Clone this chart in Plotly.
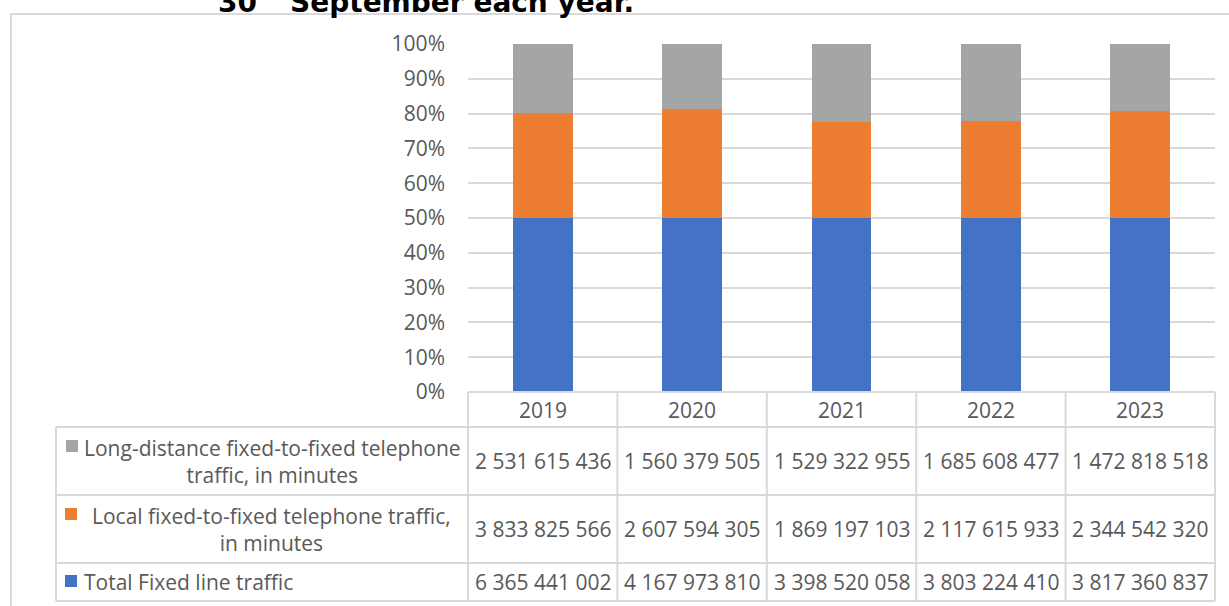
import plotly.graph_objects as go

# ---- data -------------------------------------------------------------
years = ["2019", "2020", "2021", "2022", "2023"]
long_distance = [2531615436, 1560379505, 1529322955, 1685608477, 1472818518]
local = [3833825566, 2607594305, 1869197103, 2117615933, 2344542320]
total = [6365441002, 4167973810, 3398520058, 3803224410, 3817360837]

series_names = [
    "Long-distance fixed-to-fixed telephone<br>traffic, in minutes",
    "Local fixed-to-fixed telephone traffic,<br>in minutes",
    "Total Fixed line traffic",
]
y_ticks = [0, 10, 20, 30, 40, 50, 60, 70, 80, 90, 100]

# ---- styling ----------------------------------------------------------
C_BLUE, C_ORANGE, C_GRAY = "#4472C4", "#ED7D31", "#A5A5A5"
TXT = "#595959"
GRID = "#D9D9D9"
FONT = "Open Sans"
FS = 21

W, H = 1229, 606
L, R, T, B = 468, 14, 44, 214
PW, PH = W - L - R, H - T - B


def px_x(px):
    return (px - L) / PW


def px_y(py):
    return (H - B - py) / PH


fig = go.Figure()
for name, vals, col in [
    ("Total Fixed line traffic", total, C_BLUE),
    ("Local fixed-to-fixed telephone traffic, in minutes", local, C_ORANGE),
    ("Long-distance fixed-to-fixed telephone traffic, in minutes", long_distance, C_GRAY),
]:
    fig.add_trace(go.Bar(x=years, y=vals, name=name, marker_color=col,
                         marker_line_width=0))

# ---- data table below the plot ----------------------------------------
row_edges = [392, 427, 495, 563, 601]      # header, long, local, total
label_left = 56
n = len(years)
shapes = []
line = dict(color=GRID, width=2)

# horizontal rules
shapes.append(dict(type="line", xref="paper", yref="paper", x0=0, x1=1,
                   y0=px_y(row_edges[0]), y1=px_y(row_edges[0]), line=line))
for e in row_edges[1:]:
    shapes.append(dict(type="line", xref="paper", yref="paper",
                       x0=px_x(label_left), x1=1, y0=px_y(e), y1=px_y(e), line=line))
# vertical rules
for k in range(n + 1):
    shapes.append(dict(type="line", xref="paper", yref="paper", x0=k / n, x1=k / n,
                       y0=px_y(row_edges[0]), y1=px_y(row_edges[-1]), line=line))
shapes.append(dict(type="line", xref="paper", yref="paper",
                   x0=px_x(label_left), x1=px_x(label_left),
                   y0=px_y(row_edges[1]), y1=px_y(row_edges[-1]), line=line))

# outer chart frame
shapes.append(dict(type="rect", xref="paper", yref="paper", layer="below",
                   x0=px_x(11), x1=px_x(1250), y0=px_y(14), y1=px_y(640),
                   line=dict(color=GRID, width=2)))

# legend keys in the row headers (top-left corner of each key, in pixels)
key_pos = [(66, 440), (65, 508), (65, 575)]
key_cols = [C_GRAY, C_ORANGE, C_BLUE]
for (kx, ky), col in zip(key_pos, key_cols):
    shapes.append(dict(type="rect", xref="paper", yref="paper",
                       x0=px_x(kx), x1=px_x(kx + 12), y0=px_y(ky), y1=px_y(ky + 12),
                       fillcolor=col, line=dict(width=0)))


def fmt(v):
    return f"{v:,}".replace(",", " ")


annotations = []
tfont = dict(family=FONT, size=FS, color=TXT)


def row_mid(i):
    return px_y((row_edges[i] + row_edges[i + 1]) / 2)


def cell(x, y, text, xanchor="center", align="center"):
    return dict(x=x, y=y, xref="paper", yref="paper", xanchor=xanchor,
                yanchor="middle", align=align, text=text, showarrow=False,
                font=tfont)


for i, yr in enumerate(years):
    annotations.append(cell((i + 0.5) / n, row_mid(0), yr))
    for r, vals in enumerate([long_distance, local, total]):
        annotations.append(cell((i + 0.5) / n, row_mid(r + 1), fmt(vals[i])))

annotations.append(cell(px_x(272), row_mid(1), series_names[0]))
annotations.append(cell(px_x(271), row_mid(2), series_names[1]))
annotations.append(cell(px_x(82), row_mid(3), series_names[2], xanchor="left",
                        align="left"))

# heading (runs off the top edge of the page)
annotations.append(dict(x=px_x(216), y=px_y(21), xref="paper", yref="paper",
                        xanchor="left", yanchor="bottom", showarrow=False,
                        text="<b>30<sup>th</sup> September each year.</b>",
                        font=dict(family="DejaVu Sans", size=28, color="#000000")))

fig.update_layout(
    width=W, height=H,
    margin=dict(l=L, r=R, t=T, b=B),
    paper_bgcolor="white", plot_bgcolor="white",
    barmode="stack", barnorm="percent", bargap=0.6,
    showlegend=False,
    shapes=shapes, annotations=annotations,
    xaxis=dict(showticklabels=False, showgrid=False, zeroline=False,
               showline=False, ticks="", range=[-0.5, n - 0.5]),
    yaxis=dict(range=[0, 100], tickvals=y_ticks,
               ticktext=[f"{v}%" for v in y_ticks],
               showgrid=True, gridcolor=GRID, gridwidth=1.5, zeroline=False,
               showline=False, ticks="", ticklabelstandoff=22,
               tickfont=dict(family=FONT, size=FS, color=TXT)),
    font=dict(family=FONT, color=TXT),
)

fig.write_html("out.html")
